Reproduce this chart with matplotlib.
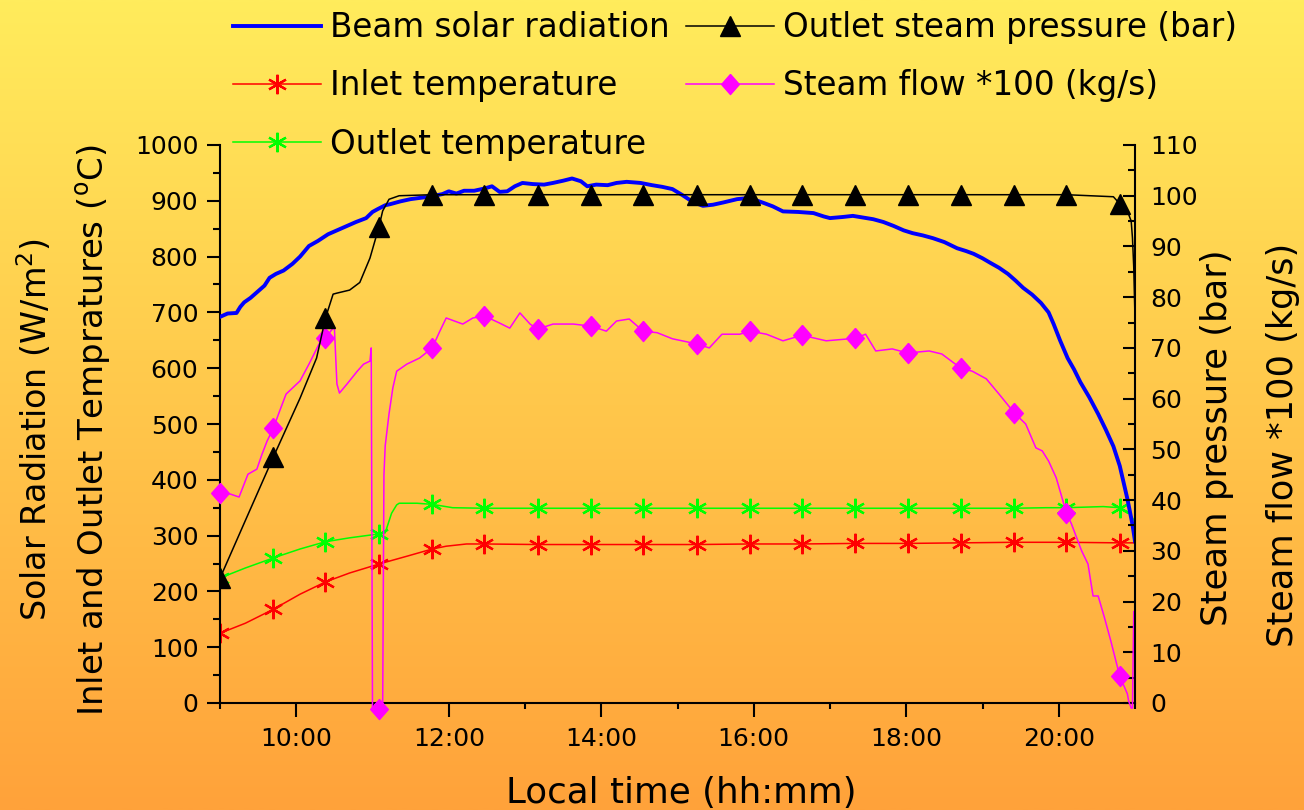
import matplotlib
matplotlib.use("Agg")
import matplotlib.pyplot as plt
import numpy as np
from matplotlib.ticker import MultipleLocator, FixedLocator, FuncFormatter

plt.rcParams['font.family'] = ['DejaVu Sans']
plt.rcParams['mathtext.default'] = 'regular'

# ---------------- data ----------------
marker_times = ['9:00', '9:42', '10:23', '11:05', '11:47', '12:28', '13:10', '13:52', '14:33',
                '15:15', '15:57', '16:38', '17:20', '18:01', '18:43', '19:25', '20:06', '20:48']

beam_time = ['9:00', '9:06', '9:13', '9:16', '9:19', '9:24', '9:30', '9:35', '9:39', '9:44', '9:50',
             '9:57', '10:03', '10:10', '10:17', '10:25', '10:32', '10:40', '10:47', '10:55', '11:00',
             '11:04', '11:10', '11:14', '11:22', '11:30', '11:40', '11:46', '11:55', '12:00', '12:06',
             '12:12', '12:20', '12:28', '12:34', '12:40', '12:46', '12:52', '12:58', '13:06', '13:15',
             '13:22', '13:30', '13:37', '13:44', '13:49', '13:56', '14:05', '14:12', '14:20', '14:31',
             '14:40', '14:48', '14:56', '15:04', '15:12', '15:20', '15:28', '15:36', '15:47', '15:56',
             '16:03', '16:08', '16:15', '16:23', '16:35', '16:47', '16:55', '17:00', '17:10', '17:18',
             '17:26', '17:34', '17:42', '17:50', '17:58', '18:05', '18:13', '18:21', '18:30', '18:40',
             '18:47', '18:53', '19:00', '19:06', '19:13', '19:20', '19:26', '19:32', '19:39', '19:46',
             '19:52', '19:56', '20:01', '20:07', '20:12', '20:17', '20:24', '20:31', '20:37', '20:43',
             '20:48', '20:54', '20:58', '21:00']
beam_wm2 = [692, 698, 699, 710, 718, 726, 738, 748, 762, 769, 775,
            787, 800, 819, 828, 840, 847, 855, 862, 869, 880,
            885, 892, 894, 899, 903, 906, 908, 912, 917, 913,
            918, 918, 922, 926, 916, 917, 926, 932, 930, 929,
            932, 936, 940, 935, 926, 929, 928, 932, 934, 932,
            928, 925, 921, 910, 898, 891, 893, 897, 903, 905,
            900, 896, 890, 881, 880, 878, 872, 869, 871, 873,
            870, 867, 862, 855, 847, 842, 838, 833, 826, 815,
            810, 805, 797, 789, 780, 769, 757, 744, 732, 717,
            700, 679, 650, 618, 598, 575, 548, 518, 490, 460,
            425, 366, 320, 290]

inlet_time = ['9:00', '9:20', '9:42', '10:03', '10:23', '10:42', '11:05', '11:27', '11:47', '11:58',
              '12:14', '12:28', '13:10', '13:52', '14:33', '15:15', '15:57', '16:38', '17:20', '18:01',
              '18:43', '19:25', '20:06', '20:48', '21:00']
inlet_c = [125, 143, 168, 195, 217, 233, 249, 263, 276, 281,
           285, 285, 284, 284, 284, 284, 285, 285, 286, 286,
           287, 288, 288, 287, 287]

outlet_time = ['9:00', '9:20', '9:42', '10:03', '10:23', '10:42', '11:05', '11:10', '11:15', '11:19',
               '11:21', '11:35', '11:47', '12:03', '12:28', '13:10', '13:52', '14:33', '15:15', '15:57',
               '16:38', '17:20', '18:01', '18:43', '19:25', '19:50', '20:06', '20:35', '20:48', '20:55',
               '21:00']
outlet_c = [224, 242, 260, 276, 289, 296, 303, 305, 340, 355,
            358, 358, 356, 350, 349, 349, 349, 349, 349, 349,
            349, 349, 349, 349, 349, 350, 350, 352, 350, 342,
            325]

pressure_time = ['9:00', '9:20', '9:42', '10:03', '10:16', '10:23', '10:29', '10:32', '10:42', '10:50',
                 '10:58', '11:05', '11:08', '11:13', '11:21', '11:47', '12:28', '13:10', '13:52', '14:33',
                 '15:15', '15:57', '16:38', '17:20', '18:01', '18:43', '19:25', '20:06', '20:43', '20:48',
                 '20:54', '20:57', '20:58', '20:59', '21:00']
pressure_bar = [24.6, 36.0, 48.5, 60.1, 68.0, 75.9, 80.6, 80.8, 81.4, 82.9,
                87.7, 93.8, 97.0, 99.3, 100.0, 100.2, 100.2, 100.2, 100.2, 100.2,
                100.2, 100.2, 100.2, 100.2, 100.2, 100.2, 100.2, 100.2, 99.8, 98.4,
                97.0, 95.0, 91.7, 86.0, 76.0]

flow_time = ['9:00', '9:08', '9:15', '9:22', '9:29', '9:33', '9:37', '9:42', '9:47', '9:52',
             '10:03', '10:10', '10:18', '10:23', '10:29', '10:30', '10:32', '10:34', '10:40', '10:48',
             '10:53', '10:58', '10:59', '11:00', '11:05', '11:08', '11:09', '11:10', '11:13', '11:16',
             '11:19', '11:27', '11:37', '11:47', '11:53', '11:58', '12:11', '12:19', '12:28', '12:40',
             '12:48', '12:56', '13:04', '13:10', '13:22', '13:38', '13:52', '14:04', '14:12', '14:22',
             '14:33', '14:44', '14:56', '15:15', '15:25', '15:35', '15:49', '15:57', '16:10', '16:23',
             '16:38', '16:57', '17:20', '17:28', '17:36', '17:49', '18:01', '18:18', '18:28', '18:43',
             '18:52', '19:03', '19:13', '19:25', '19:34', '19:42', '19:47', '19:52', '19:58', '20:06',
             '20:10', '20:18', '20:23', '20:27', '20:31', '20:36', '20:41', '20:48', '20:54', '20:55',
             '20:57', '20:58', '20:59']
flow_x100 = [41.4, 41.2, 40.6, 45.1, 46.1, 49.0, 51.6, 54.2, 57.6, 60.9,
             63.5, 66.8, 70.8, 72.0, 73.9, 74.0, 62.9, 61.1, 62.9, 65.4,
             66.8, 67.4, 70.0, -1.0, -1.2, -1.0, 45.0, 50.7, 57.0, 62.1,
             65.4, 66.8, 68.0, 70.0, 73.3, 75.9, 74.7, 75.9, 76.3, 74.9,
             73.9, 76.9, 74.7, 73.7, 74.7, 74.7, 74.3, 73.3, 75.3, 75.7,
             73.3, 73.0, 71.8, 70.8, 70.0, 72.7, 72.7, 73.3, 72.7, 71.4,
             72.5, 71.4, 71.9, 72.7, 69.4, 69.8, 69.0, 69.4, 68.8, 66.0,
             65.4, 63.9, 60.9, 57.2, 55.0, 50.3, 49.7, 47.7, 44.4, 37.5,
             35.3, 30.0, 27.4, 21.1, 21.1, 16.8, 12.2, 5.3, 1.8, 0.4,
             -1.0, -1.0, 18.0]

labels = ['Beam solar radiation', 'Inlet temperature', 'Outlet temperature',
          'Outlet steam pressure (bar)', 'Steam flow *100 (kg/s)']
xtick_hours = [10, 12, 14, 16, 18, 20]


def to_hours(lst):
    out = []
    for s in lst:
        h, m = s.split(':')
        out.append(int(h) + float(m) / 60.0)
    return np.array(out)


def marks(times):
    return [i for i, t in enumerate(times) if t in marker_times]


# ---------------- figure ----------------
W, H = 1304, 810
fig = plt.figure(figsize=(W / 100, H / 100), dpi=100)

# vertical background gradient
bg = fig.add_axes([0, 0, 1, 1], zorder=0)
top = np.array([255, 236, 92]) / 255.0
bot = np.array([255, 162, 58]) / 255.0
f = np.linspace(0, 1, 256)[:, None]
grad = top[None, :] * (1 - f) + bot[None, :] * f
bg.imshow(grad[:, None, :], aspect='auto', extent=[0, 1, 0, 1], interpolation='bilinear')
bg.set_axis_off()

L, R, T, B = 220, 1135, 145, 703
ax = fig.add_axes([L / W, 1 - B / H, (R - L) / W, (B - T) / H], zorder=1)
ax.patch.set_alpha(0)
ax2 = ax.twinx()
ax2.patch.set_alpha(0)

star = (6, 2, 0)
diamond = [(0, 1), (0.88, 0), (0, -1), (-0.88, 0), (0, 1)]

l_beam, = ax.plot(to_hours(beam_time), beam_wm2, color='#0000FF', lw=2.8, zorder=3)
l_in, = ax.plot(to_hours(inlet_time), inlet_c, color='#FF0000', lw=1.1, marker=star, ms=14,
                mew=1.6, markevery=marks(inlet_time), zorder=2)
l_out, = ax.plot(to_hours(outlet_time), outlet_c, color='#00FF00', lw=1.1, marker=star, ms=14,
                 mew=1.6, markevery=marks(outlet_time), zorder=2)
l_p, = ax2.plot(to_hours(pressure_time), pressure_bar, color='black', lw=1.1, marker='^', ms=14,
                markevery=marks(pressure_time), zorder=3)
l_f, = ax2.plot(to_hours(flow_time), flow_x100, color='#FF00FF', lw=1.1, marker=diamond, ms=14.5,
                mec='#FF00FF', mfc='#FF00FF', markevery=marks(flow_time), zorder=2, clip_on=False)

# axes setup
ax.set_xlim(9.0, 21.0)
ax.set_ylim(0, 1000)
ax2.set_ylim(0, 110)
ax.xaxis.set_major_locator(FixedLocator(xtick_hours))
ax.xaxis.set_minor_locator(MultipleLocator(1))
ax.xaxis.set_major_formatter(FuncFormatter(lambda v, p: f"{int(round(v))}:00"))
ax.yaxis.set_major_locator(MultipleLocator(100))
ax.yaxis.set_minor_locator(MultipleLocator(50))
ax2.yaxis.set_major_locator(MultipleLocator(10))
ax2.yaxis.set_minor_locator(MultipleLocator(5))

for a in (ax, ax2):
    for s in a.spines.values():
        s.set_linewidth(1.5)
    a.spines['top'].set_visible(False)
ax.spines['right'].set_visible(False)
ax2.spines['left'].set_visible(False)
ax2.spines['bottom'].set_visible(False)

ax.tick_params(axis='x', which='major', direction='out', length=10, width=1.5, labelsize=18, pad=7)
ax.tick_params(axis='x', which='minor', direction='out', length=4, width=1.5)
ax.tick_params(axis='y', which='major', direction='out', length=9.5, width=1.5, labelsize=18, pad=6)
ax.tick_params(axis='y', which='minor', direction='out', length=5, width=1.5)
ax2.tick_params(axis='y', which='major', direction='in', length=9, width=1.5, labelsize=18, pad=11)
ax2.tick_params(axis='y', which='minor', direction='in', length=5, width=1.5)

# axis titles
fig.text(35 / W, 1 - 430 / H, 'Solar Radiation (W/m$^2$)', rotation=90, ha='center', va='center', fontsize=24)
fig.text(94 / W, 1 - 430 / H, 'Inlet and Outlet Tempratures ($^{o}$C)', rotation=90, ha='center',
         va='center', fontsize=24.5)
fig.text(1217 / W, 1 - 438 / H, 'Steam pressure (bar)', rotation=90, ha='center', va='center', fontsize=25.5)
fig.text(1283 / W, 1 - 445 / H, 'Steam flow *100 (kg/s)', rotation=90, ha='center', va='center', fontsize=25.3)
fig.text(681 / W, 1 - 803 / H, 'Local time (hh:mm)', ha='center', va='baseline', fontsize=25.7)

# legend
fig.legend([l_beam, l_in, l_out, l_p, l_f], labels, ncol=2, loc='upper left',
           bbox_to_anchor=(233 / W, 1 - 11 / H), bbox_transform=fig.transFigure,
           frameon=False, fontsize=23.5, handlelength=2.7, handletextpad=0.28,
           columnspacing=0.5, labelspacing=0.78, borderpad=0, borderaxespad=0, numpoints=1)

fig.savefig('out.png', dpi=100)
